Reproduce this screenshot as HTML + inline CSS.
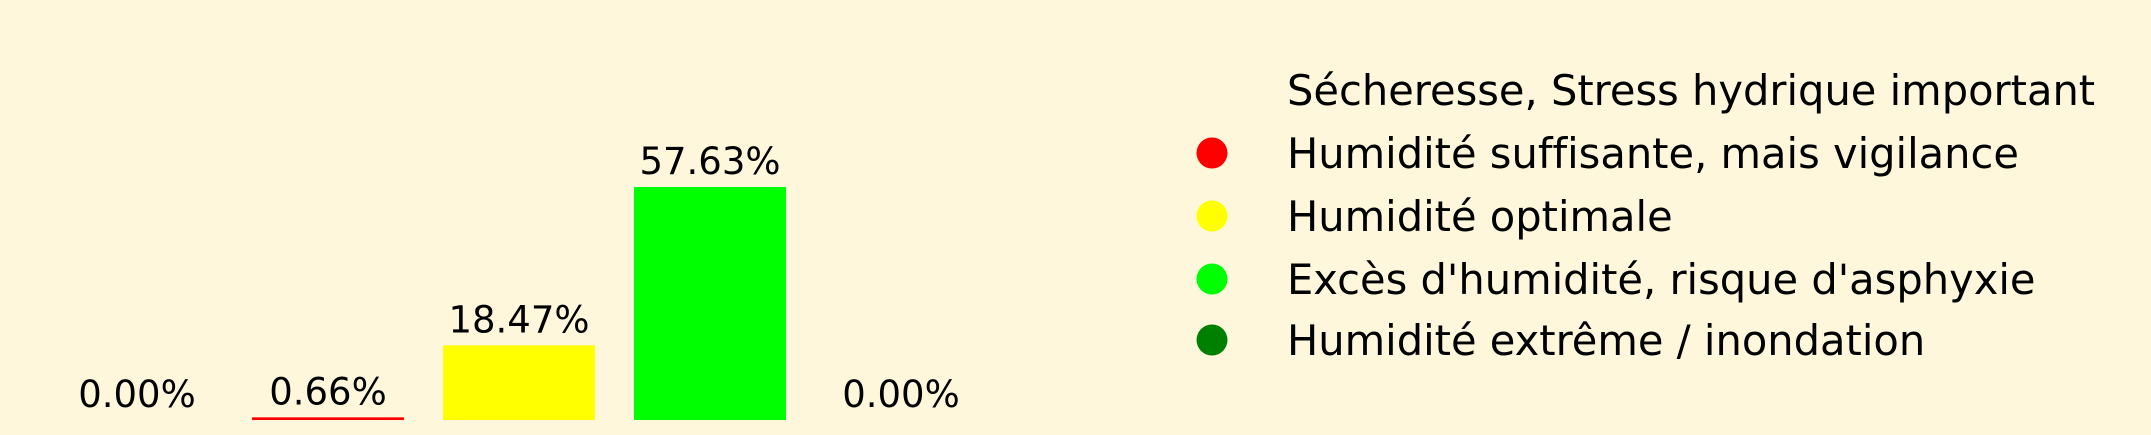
<!DOCTYPE html>
<html><head><meta charset="utf-8"><style>
html,body{margin:0;padding:0;background:#fef7dc;}
svg{display:block;font-family:"DejaVu Sans","Liberation Sans",sans-serif;font-variant-ligatures:none;}
</style></head><body>
<svg id="chart" width="2151" height="435" viewBox="0 0 2151 435">
<rect width="2151" height="435" fill="#fef7dc"/>
<g id="bars"></g>
<g id="legend"></g>
</svg>
<script>
const categories = ["Sécheresse, Stress hydrique important","Humidité suffisante, mais vigilance","Humidité optimale","Excès d'humidité, risque d'asphyxie","Humidité extrême / inondation"];
const values = [0.00, 0.66, 18.47, 57.63, 0.00];
const colors = ["#ff0000","#ff0000","#ffff00","#00ff00","#008000"];
const legendMarkers = [false,true,true,true,true];
const legendColors = ["none","#ff0000","#ffff00","#00ff00","#008000"];

const NS="http://www.w3.org/2000/svg";
const baseY=420, pxPerPct=233/57.63, step=191, x0=137, bw=152;
const xc=i=>x0+i*step;
const y=v=>baseY-v*pxPerPct;
const bars=document.getElementById('bars');
values.forEach((v,i)=>{
  const h=Math.max(baseY-y(v), 0);
  if(h>0){
    const r=document.createElementNS(NS,'rect');
    
    
    r.setAttribute('x',xc(i)-bw/2);r.setAttribute('y',y(v));
    r.setAttribute('width',bw);r.setAttribute('height',h);
    r.setAttribute('fill',colors[i]);
    bars.appendChild(r);
  }
  const t=document.createElementNS(NS,'text');
  
  
  t.setAttribute('x',xc(i));t.setAttribute('y',y(v)-13);
  t.setAttribute('text-anchor','middle');t.setAttribute('font-size','37');
  t.textContent=v.toFixed(2)+'%';
  bars.appendChild(t);
});
const lg=document.getElementById('legend');
const ly=[90,153,216,279,340];
categories.forEach((c,i)=>{
  if(legendMarkers[i]){
    const ci=document.createElementNS(NS,'circle');
    
    
    ci.setAttribute('cx',1212);ci.setAttribute('cy',ly[i]);ci.setAttribute('r',15.5);
    ci.setAttribute('fill',legendColors[i]);
    lg.appendChild(ci);
  }
  const t=document.createElementNS(NS,'text');
  
  
  t.setAttribute('x',1287);t.setAttribute('y',ly[i]+15);t.setAttribute('font-size','41.6');
  t.textContent=c;
  lg.appendChild(t);
});
</script>
</body></html>
